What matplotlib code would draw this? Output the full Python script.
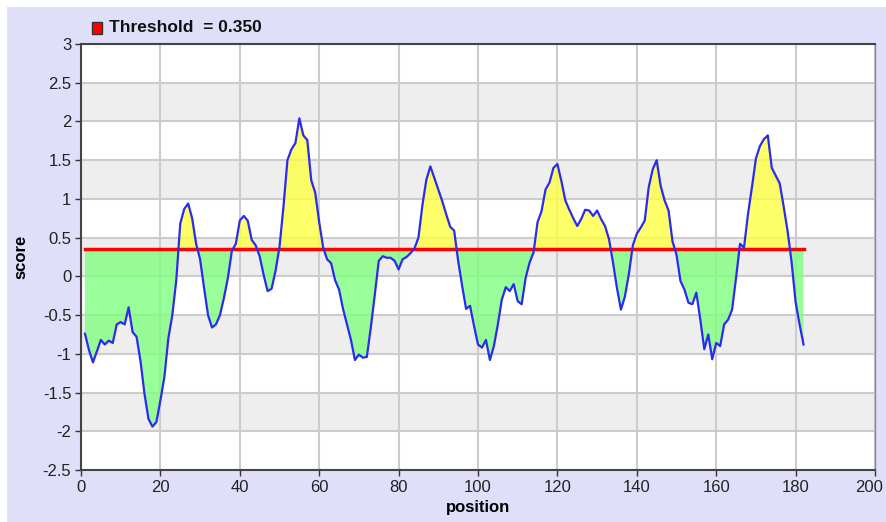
import matplotlib
matplotlib.use("Agg")
import matplotlib.pyplot as plt
import matplotlib.patches as mpatches
import matplotlib.transforms as mtransforms
import numpy as np

plt.rcParams['font.family'] = ['Liberation Sans', 'DejaVu Sans']

positions = list(range(1, 183))
scores = [
    -0.74, -0.95, -1.11, -0.97, -0.82, -0.88, -0.83, -0.86, -0.62, -0.59,
    -0.62, -0.40, -0.72, -0.78, -1.10, -1.52, -1.84, -1.94, -1.88, -1.60,
    -1.30, -0.80, -0.50, -0.05, 0.68, 0.87, 0.94, 0.75, 0.42, 0.22,
    -0.15, -0.50, -0.66, -0.62, -0.50, -0.28, -0.02, 0.33, 0.42, 0.72,
    0.78, 0.72, 0.47, 0.40, 0.26, 0.02, -0.19, -0.16, 0.07, 0.38,
    0.90, 1.50, 1.64, 1.72, 2.04, 1.82, 1.76, 1.24, 1.08, 0.70,
    0.37, 0.22, 0.17, -0.05, -0.17, -0.42, -0.62, -0.82, -1.08, -1.01,
    -1.05, -1.04, -0.66, -0.24, 0.20, 0.26, 0.24, 0.24, 0.20, 0.09,
    0.22, 0.25, 0.30, 0.36, 0.50, 0.92, 1.25, 1.42, 1.27, 1.12,
    0.97, 0.80, 0.64, 0.59, 0.20, -0.12, -0.42, -0.38, -0.64, -0.88,
    -0.92, -0.82, -1.08, -0.90, -0.62, -0.30, -0.14, -0.19, -0.10, -0.32,
    -0.36, -0.02, 0.18, 0.31, 0.70, 0.84, 1.12, 1.21, 1.40, 1.45,
    1.23, 0.98, 0.86, 0.75, 0.65, 0.74, 0.86, 0.85, 0.78, 0.85,
    0.74, 0.65, 0.48, 0.18, -0.15, -0.43, -0.26, 0.03, 0.40, 0.55,
    0.63, 0.72, 1.15, 1.38, 1.50, 1.17, 0.98, 0.85, 0.45, 0.28,
    -0.06, -0.17, -0.34, -0.36, -0.21, -0.56, -0.94, -0.75, -1.07, -0.86,
    -0.90, -0.62, -0.56, -0.43, -0.02, 0.42, 0.37, 0.80, 1.15, 1.52,
    1.68, 1.77, 1.82, 1.40, 1.30, 1.20, 0.90, 0.58, 0.18, -0.33,
    -0.62, -0.88,
]
threshold = 0.35
x_ticks = list(range(0, 201, 20))
y_ticks = [-2.5, -2, -1.5, -1, -0.5, 0, 0.5, 1, 1.5, 2, 2.5, 3]
legend_label = 'Threshold  = 0.350'

x = np.array(positions)
y = np.array(scores)

fig = plt.figure(figsize=(8.86, 5.22), dpi=100)
fig.patch.set_facecolor('white')
fig.patches.append(mpatches.Rectangle((7/886, 0), 1, 1 - 7/522, transform=fig.transFigure,
                                      facecolor='#dfdffa', edgecolor='none', zorder=-10))

ax = fig.add_axes([81/886, 1 - 470/522, (875 - 81)/886, (470 - 44)/522])
ax.set_facecolor('white')
ax.set_xlim(0, 200)
ax.set_ylim(-2.5, 3)

# alternating bands
for i, lo in enumerate(np.arange(-2.5, 3.0, 0.5)):
    if i % 2 == 1:
        ax.axhspan(lo, lo + 0.5, facecolor='#eeeeee', edgecolor='none', zorder=0)

ax.set_axisbelow(True)
ax.grid(True, color='#cccccc', linewidth=1.5, zorder=1)

ax.fill_between(x, y, threshold, where=y >= threshold, interpolate=True,
                facecolor='#ffff44', alpha=0.8, edgecolor='none', zorder=2)
ax.fill_between(x, y, threshold, where=y <= threshold, interpolate=True,
                facecolor='#80ff80', alpha=0.8, edgecolor='none', zorder=2)

ax.plot([x[0], x[-1]], [threshold, threshold], color='#ff0000', linewidth=2.5, zorder=3)
ax.plot(x, y, color='#2b2bf0', linewidth=1.6, zorder=4)

ax.set_xticks(x_ticks)
ax.set_yticks(y_ticks)
ax.set_xticklabels([str(v) for v in x_ticks])
ax.set_yticklabels([('%g' % v) for v in y_ticks])
ax.tick_params(axis='both', direction='out', length=4, width=1, colors='#333333',
               labelcolor='#222222', labelsize=12, pad=3)

# keep the last x tick label inside the canvas
last = ax.get_xticklabels()[-1]
last.set_transform(last.get_transform() + mtransforms.ScaledTranslation(-6/100, 0, fig.dpi_scale_trans))

for side in ['left', 'bottom', 'top']:
    ax.spines[side].set_color('#444444')
    ax.spines[side].set_linewidth(1.5)
ax.spines['right'].set_color('#888888')
ax.spines['right'].set_linewidth(1)

ax.set_xlabel('position', fontsize=12, fontweight='bold', labelpad=4)
ax.set_ylabel('score', fontsize=12, fontweight='bold', labelpad=10)

# legend
fig.patches.append(mpatches.Rectangle((92/886, 1 - 34/522), 10/886, 12/522, transform=fig.transFigure,
                                      facecolor='#ff0000', edgecolor='#333333', linewidth=1))
fig.text(109/886, 1 - 28/522, legend_label, fontsize=12.5, fontweight='bold',
         va='center', ha='left', color='#111111')

fig.savefig('out.png', dpi=100, facecolor=fig.get_facecolor())
